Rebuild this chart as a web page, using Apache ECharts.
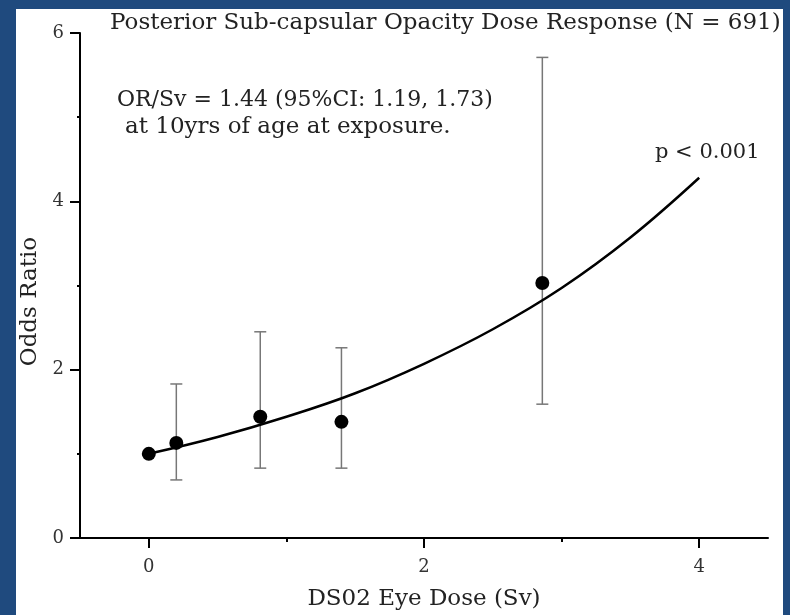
<!DOCTYPE html>
<html>
<head>
<meta charset="utf-8">
<script src="https://cdn.jsdelivr.net/npm/echarts@6/dist/echarts.min.js"></script>
<style>
html,body{margin:0;padding:0;background:#1f4a7e;width:790px;height:615px;overflow:hidden;}
#chart{position:absolute;left:16px;top:9px;width:767px;height:606px;background:#ffffff;}
</style>
</head>
<body>
<div id="chart"></div>
<script>
// Data
const doseValues = [0, 0.2, 0.81, 1.40, 2.86];
const oddsRatios = [1.00, 1.13, 1.44, 1.38, 3.03];
const ciLow = [null, 0.69, 0.83, 0.83, 1.59];
const ciHigh = [null, 1.83, 2.45, 2.26, 5.71];
const fitDose = [0, 0.5, 1, 1.5, 2, 2.5, 3, 3.5, 4];
const fitOR = [1.00, 1.20, 1.44, 1.72, 2.07, 2.48, 2.97, 3.57, 4.28];
const xTicks = [0, 2, 4];
const xMinorTicks = [1, 3];
const titleText = 'Posterior Sub-capsular Opacity Dose Response (N = 691)';
const noteLine1 = 'OR/Sv = 1.44 (95%CI: 1.19, 1.73)';
const noteLine2 = 'at 10yrs of age at exposure.';
const pText = 'p < 0.001';

const FONT = '"DejaVu Serif", "Liberation Serif", serif';
const points = doseValues.map((d, i) => [d, oddsRatios[i]]);
const bars = doseValues.map((d, i) => [d, ciLow[i], ciHigh[i]]).filter(r => r[1] != null);
const fit = fitDose.map((d, i) => [d, fitOR[i]]);

const chart = echarts.init(document.getElementById('chart'), null, {renderer: 'canvas'});
chart.setOption({
  animation: false,
  backgroundColor: '#ffffff',
  grid: {left: 64, right: 15, top: 24, bottom: 77, containLabel: false, outerBoundsMode: 'none'},
  xAxis: [{
    type: 'value', min: -0.5, max: 4.5,
    name: 'DS02 Eye Dose (Sv)', nameLocation: 'middle', nameGap: 50,
    nameTextStyle: {fontFamily: FONT, fontSize: 23, color: '#222'},
    axisLine: {show: true, onZero: false, lineStyle: {color: '#000', width: 2}},
    axisTick: {show: true, customValues: xTicks, length: 10, lineStyle: {color: '#000', width: 2}},
    axisLabel: {customValues: xTicks, margin: 20, fontFamily: FONT, fontSize: 18, color: '#333'},
    splitLine: {show: false}
  }, {
    type: 'value', min: -0.5, max: 4.5, position: 'bottom',
    axisLine: {show: false},
    axisTick: {show: true, customValues: xMinorTicks, length: 4, lineStyle: {color: '#000', width: 2}},
    axisLabel: {show: false},
    splitLine: {show: false}
  }],
  yAxis: {
    type: 'value', min: 0, max: 6, interval: 2,
    name: 'Odds Ratio', nameLocation: 'middle', nameGap: 38,
    nameTextStyle: {fontFamily: FONT, fontSize: 23, color: '#222', padding: [0, 32, 0, 0]},
    axisLine: {show: true, onZero: false, lineStyle: {color: '#000', width: 2}},
    axisTick: {show: true, length: 10, lineStyle: {color: '#000', width: 2}},
    minorTick: {show: true, splitNumber: 2, length: 3, lineStyle: {color: '#000', width: 2}},
    axisLabel: {margin: 16, fontFamily: FONT, fontSize: 18, color: '#333'},
    splitLine: {show: false}
  },
  graphic: [
    {type: 'text', left: 94, top: 3, style: {text: titleText, font: '23px ' + FONT, fill: '#222'}},
    {type: 'text', left: 101, top: 80, style: {text: noteLine1, font: '22px ' + FONT, fill: '#222'}},
    {type: 'text', left: 109, top: 107, style: {text: noteLine2, font: '23px ' + FONT, fill: '#222'}},
    {type: 'text', left: 639, top: 133, style: {text: pText, font: '21px ' + FONT, fill: '#222'}}
  ],
  series: [
    {
      type: 'custom', name: 'CI',
      renderItem: function (params, api) {
        const x = api.value(0);
        const lo = api.coord([x, api.value(1)]);
        const hi = api.coord([x, api.value(2)]);
        const w = 6;
        const st = {stroke: '#777', lineWidth: 1.5};
        return {type: 'group', children: [
          {type: 'line', shape: {x1: lo[0], y1: lo[1], x2: hi[0], y2: hi[1]}, style: st},
          {type: 'line', shape: {x1: lo[0] - w, y1: lo[1], x2: lo[0] + w, y2: lo[1]}, style: st},
          {type: 'line', shape: {x1: hi[0] - w, y1: hi[1], x2: hi[0] + w, y2: hi[1]}, style: st}
        ]};
      },
      encode: {x: 0, y: [1, 2]},
      data: bars, z: 1
    },
    {
      type: 'line', name: 'fit', data: fit, smooth: 0.4, showSymbol: false,
      lineStyle: {color: '#000', width: 2.5}, z: 2
    },
    {
      type: 'scatter', name: 'OR', data: points, symbol: 'circle', symbolSize: 14,
      itemStyle: {color: '#000', opacity: 1}, z: 3
    }
  ]
});
</script>
</body>
</html>
